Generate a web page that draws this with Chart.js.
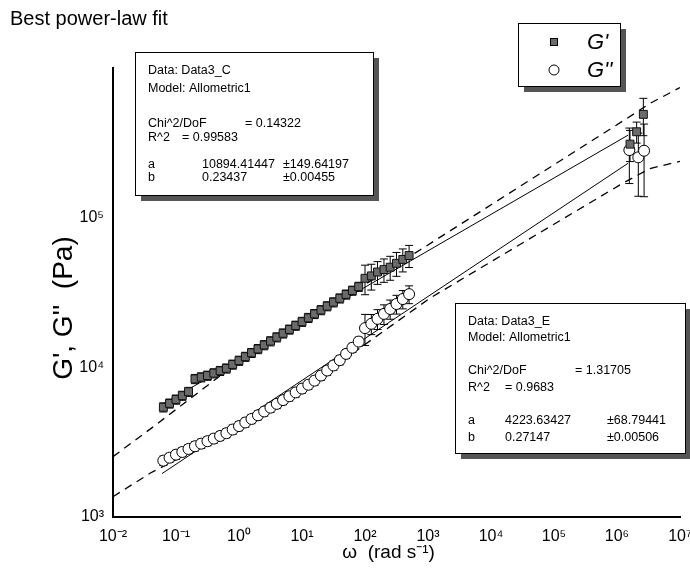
<!DOCTYPE html>
<html>
<head>
<meta charset="utf-8">
<title>Best power-law fit</title>
<script src="https://cdn.jsdelivr.net/npm/chart.js@4.4.1/dist/chart.umd.min.js"></script>
<style>
  body { margin: 0; background: #fff; }
  canvas { display: block; }
</style>
</head>
<body>
<canvas id="chart" width="690" height="574"></canvas>
<script>
// frequency sweep (rad/s) shared by G' and G''
const omega = [0.063, 0.079, 0.1, 0.126, 0.158, 0.2, 0.251, 0.316, 0.398, 0.501,
  0.631, 0.794, 1, 1.26, 1.58, 2, 2.51, 3.16, 3.98, 5.01,
  6.31, 7.94, 10, 12.6, 15.8, 20, 25.1, 31.6, 39.8, 50.1,
  63.1, 79.4, 100, 126, 158, 200, 251, 316, 398, 501];
const gPrime = [5410, 5740, 6100, 6470, 6870, 8370, 8590, 8810, 9140, 9480,
  9840, 10450, 11090, 11780, 12500, 13270, 14090, 14960, 15890, 16870,
  17910, 19010, 20180, 21430, 22750, 24150, 25640, 27230, 28910, 30690,
  32580, 34590, 39360, 40830, 43350, 44980, 46670, 49550, 52600, 55850];
const gPrimeErr = [380, 400, 430, 450, 480, 590, 600, 620, 640, 660,
  690, 730, 780, 820, 870, 930, 990, 1050, 1110, 1180,
  1250, 1330, 1410, 1500, 1590, 1690, 1790, 1910, 2020, 2150,
  2280, 2420, 8800, 8000, 7500, 8000, 8500, 9000, 9200, 9400];
const gDouble = [2380, 2490, 2610, 2720, 2850, 2970, 3090, 3210, 3340, 3480,
  3630, 3840, 4050, 4280, 4520, 4780, 5070, 5380, 5700, 6040,
  6410, 6800, 7210, 7650, 8150, 8810, 9520, 10290, 11170, 12300,
  13520, 14860, 18280, 19540, 21090, 22750, 24550, 26490, 28580, 30830];
const gDoubleErr = [170, 170, 180, 190, 200, 210, 220, 220, 230, 240,
  250, 270, 280, 300, 320, 330, 350, 380, 400, 420,
  450, 480, 500, 540, 570, 620, 670, 720, 780, 860,
  950, 1040, 4300, 3000, 3200, 3400, 3600, 3800, 4000, 4200];

// high frequency points
const omegaHiP = [1.61e6, 2.05e6, 2.62e6];
const gPrimeHi = [310000, 375000, 490000];
const gPrimeHiErr = [73000, 60000, 137000];
const omegaHiDP = [1.57e6, 2.18e6, 2.69e6];
const gDoubleHi = [283000, 253000, 280000];
const gDoubleHiErr = [114000, 114000, 142000];

// allometric fits and dashed bands
const fitOmega = [0.06, 1.5e6];
const fitGPrime = [5640, 356000];
const fitGDouble = [1950, 231000];
const upperBandOmega = [0.01, 0.0437, 0.564, 746, 1.43e6, 3.34e6, 1e7];
const upperBand = [2530, 4010, 9120, 60800, 460000, 580000, 740000];
const lowerBandOmega = [0.01, 0.0386, 1.667, 14.96, 83.4, 1076, 1.24e6, 3.34e6, 1e7];
const lowerBand = [1367, 1959, 4450, 7850, 13460, 29000, 170000, 213000, 238000];

const xTicks = [1e-2, 1e-1, 1, 10, 100, 1e3, 1e4, 1e5, 1e6, 1e7];
const xTickLabels = ['10⁻²', '10⁻¹', '10⁰', '10¹', '10²', '10³', '10⁴', '10⁵', '10⁶', '10⁷'];
const yTicks = [1e3, 1e4, 1e5];
const yTickLabels = ['10³', '10⁴', '10⁵'];

const fitResultC = [['Data: Data3_C'], ['Model: Allometric1'], ['Chi^2/DoF', '= 0.14322'],
  ['R^2', '= 0.99583'], ['a', '10894.41447', '±149.64197'], ['b', '0.23437', '±0.00455']];
const fitResultE = [['Data: Data3_E'], ['Model: Allometric1'], ['Chi^2/DoF', '= 1.31705'],
  ['R^2', '= 0.9683'], ['a', '4223.63427', '±68.79441'], ['b', '0.27147', '±0.00506']];

const FONT = "'Liberation Sans', Arial, sans-serif";
Chart.defaults.font.family = FONT;
Chart.defaults.color = '#000';

function points(xs, ys, errs) {
  return xs.map((x, i) => ({ x: x, y: ys[i], err: errs ? errs[i] : 0 }));
}

const errorBars = {
  id: 'errorBars',
  beforeDatasetsDraw(chart) {
    const ctx = chart.ctx, xs = chart.scales.x, ys = chart.scales.y;
    ctx.save();
    ctx.strokeStyle = '#000';
    ctx.lineWidth = 1;
    chart.data.datasets.forEach(ds => {
      if (!ds.errorBars) return;
      ds.data.forEach(p => {
        if (!p.err) return;
        const px = xs.getPixelForValue(p.x);
        const top = ys.getPixelForValue(p.y + p.err);
        const bot = ys.getPixelForValue(Math.max(p.y - p.err, 1));
        ctx.beginPath();
        ctx.moveTo(px, top); ctx.lineTo(px, bot);
        ctx.moveTo(px - 4, top); ctx.lineTo(px + 4, top);
        ctx.moveTo(px - 4, bot); ctx.lineTo(px + 4, bot);
        ctx.stroke();
      });
    });
    ctx.restore();
  }
};

function shadowBox(ctx, x, y, w, h, off) {
  ctx.fillStyle = '#555';
  ctx.fillRect(x + off, y + off, w, h);
  ctx.fillStyle = '#fff';
  ctx.fillRect(x, y, w, h);
  ctx.strokeStyle = '#000';
  ctx.lineWidth = 1;
  ctx.strokeRect(x + 0.5, y + 0.5, w, h);
}

function fitBox(ctx, lines, x, y, w, h, rows, cols) {
  shadowBox(ctx, x, y, w, h, 6);
  ctx.fillStyle = '#000';
  ctx.font = '12.5px ' + FONT;
  ctx.textBaseline = 'middle';
  ctx.textAlign = 'left';
  lines.forEach((parts, i) => {
    const c = i === 2 ? [0, cols.chi] : i === 3 ? [0, cols.r2] : [0, cols.val, cols.err];
    parts.forEach((t, j) => ctx.fillText(t, x + 13 + c[j], y + rows[i]));
  });
}

const annotations = {
  id: 'annotations',
  afterDraw(chart) {
    const ctx = chart.ctx;
    ctx.save();
    ctx.fillStyle = '#000';
    ctx.font = '20px ' + FONT;
    ctx.textBaseline = 'alphabetic';
    ctx.fillText('Best power-law fit', 10, 25);

    fitBox(ctx, fitResultC, 135, 52, 238, 143, [18.7, 36.3, 72, 86, 113, 126],
      { chi: 97, r2: 34, val: 54, err: 135 });
    fitBox(ctx, fitResultE, 455, 303, 230, 150, [18.4, 35, 67.7, 84.4, 117.7, 134.4],
      { chi: 107, r2: 37, val: 37, err: 139 });

    // legend
    shadowBox(ctx, 518, 23, 102, 63, 6);
    const ds = chart.data.datasets;
    ctx.fillStyle = ds[0].backgroundColor;
    ctx.strokeStyle = '#000';
    ctx.fillRect(550, 38, 8, 8);
    ctx.strokeRect(550.5, 38.5, 7, 7);
    ctx.beginPath();
    ctx.arc(554, 70, 5, 0, Math.PI * 2);
    ctx.fillStyle = '#fff';
    ctx.fill();
    ctx.stroke();
    ctx.fillStyle = '#000';
    ctx.font = 'italic 22px ' + FONT;
    ctx.textBaseline = 'middle';
    ctx.fillText(ds[0].label, 587, 43);
    ctx.fillText(ds[1].label, 587, 71);
    ctx.restore();
  }
};

const squareStyle = { pointStyle: 'rect', pointRadius: 5.6, backgroundColor: '#6b6b6b', borderColor: '#111', borderWidth: 1 };
const circleStyle = { pointStyle: 'circle', pointRadius: 5.5, backgroundColor: '#fff', borderColor: '#000', borderWidth: 1 };

new Chart(document.getElementById('chart'), {
  type: 'scatter',
  data: {
    datasets: [
      Object.assign({ label: "G'", data: points(omega, gPrime, gPrimeErr), errorBars: true }, squareStyle),
      Object.assign({ label: "G''", data: points(omega, gDouble, gDoubleErr), errorBars: true }, circleStyle),
      Object.assign({ label: "G' high", data: points(omegaHiP, gPrimeHi, gPrimeHiErr), errorBars: true }, squareStyle),
      Object.assign({ label: "G'' high", data: points(omegaHiDP, gDoubleHi, gDoubleHiErr), errorBars: true }, circleStyle),
      { label: "G' fit", data: points(fitOmega, fitGPrime), showLine: true, pointRadius: 0, borderColor: '#000', borderWidth: 1 },
      { label: "G'' fit", data: points(fitOmega, fitGDouble), showLine: true, pointRadius: 0, borderColor: '#000', borderWidth: 1 },
      { label: 'upper', data: points(upperBandOmega, upperBand), showLine: true, pointRadius: 0, borderColor: '#000', borderWidth: 1.3, borderDash: [8, 6] },
      { label: 'lower', data: points(lowerBandOmega, lowerBand), showLine: true, pointRadius: 0, borderColor: '#000', borderWidth: 1.3, borderDash: [8, 6] }
    ]
  },
  options: {
    responsive: false,
    animation: false,
    devicePixelRatio: 1,
    layout: { padding: { left: 0, top: 68, right: 10, bottom: 0 } },
    plugins: { legend: { display: false }, tooltip: { enabled: false }, title: { display: false } },
    scales: {
      x: {
        type: 'logarithmic',
        min: 1e-2,
        max: 1e7,
        grid: { display: false },
        border: { display: true, color: '#000', width: 2 },
        afterBuildTicks: axis => { axis.ticks = xTicks.map(v => ({ value: v })); },
        afterFit: axis => { axis.height = 57; axis.paddingLeft = 0; axis.paddingRight = 0; },
        ticks: {
          autoSkip: false, maxRotation: 0, padding: 2,
          font: { size: 16 },
          callback: (v, i) => xTickLabels[i]
        },
        title: { display: true, text: 'ω  (rad s⁻¹)   ', font: { size: 19 }, padding: { top: 0, bottom: 10 } }
      },
      y: {
        type: 'logarithmic',
        min: 1e3,
        max: 1e6,
        grid: { display: false },
        border: { display: true, color: '#000', width: 2 },
        afterBuildTicks: axis => { axis.ticks = yTicks.map(v => ({ value: v })); },
        afterFit: axis => { axis.width = 113; axis.paddingTop = 0; axis.paddingBottom = 0; },
        ticks: {
          autoSkip: false, padding: 1,
          font: { size: 16 },
          callback: (v, i) => yTickLabels[i]
        },
        title: { display: true, text: "G', G''  (Pa)    ", font: { size: 28 }, padding: { top: 47, bottom: 0 } }
      }
    }
  },
  plugins: [errorBars, annotations]
});
</script>
</body>
</html>
